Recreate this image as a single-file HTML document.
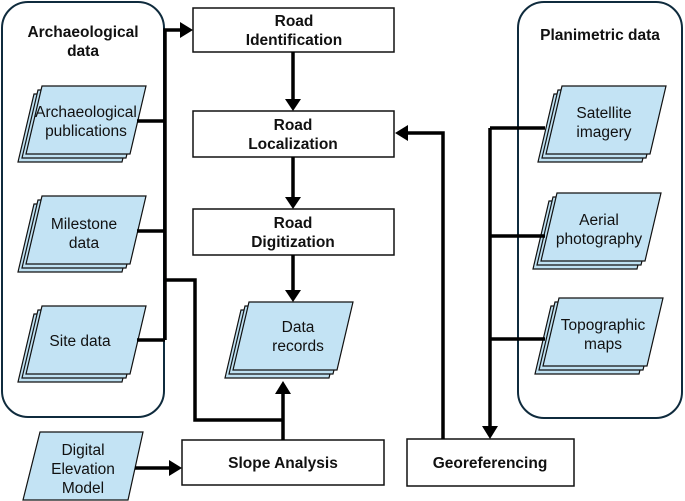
<!DOCTYPE html>
<html><head><style>
html,body{margin:0;padding:0;background:#fff;}
svg{display:block;font-family:"Liberation Sans",Arial,sans-serif;}
.t{font-size:15.5px;fill:#111;text-anchor:middle;}
.b{font-size:15.5px;font-weight:bold;fill:#111;text-anchor:middle;}
</style></head><body>
<svg width="685" height="501" viewBox="0 0 685 501" xmlns="http://www.w3.org/2000/svg">
<defs>
<g id="stk">
<polygon points="16,8 120,8 104,76 0,76" fill="#bfe1f2" stroke="#111" stroke-width="1.2"/>
<polygon points="20,4 124,4 108,72 4,72" fill="#bfe1f2" stroke="#111" stroke-width="1.2"/>
<polygon points="24,0 128,0 112,68 8,68" fill="#c3e3f4" stroke="#111" stroke-width="1.2"/>
</g>
</defs>
<rect x="2" y="2" width="162" height="415" rx="26" fill="none" stroke="#0f2b3d" stroke-width="2"/>
<rect x="518" y="2" width="164" height="416" rx="26" fill="none" stroke="#0f2b3d" stroke-width="2"/>
<text class="b" x="83" y="37">Archaeological</text>
<text class="b" x="83" y="56">data</text>
<text class="b" x="600" y="40">Planimetric data</text>

<use href="#stk" x="18" y="86"/>
<text class="t" x="86" y="117">Archaeological</text>
<text class="t" x="86" y="136">publications</text>
<use href="#stk" x="18" y="196"/>
<text class="t" x="84" y="229">Milestone</text>
<text class="t" x="84" y="248">data</text>
<use href="#stk" x="18" y="306"/>
<text class="t" x="80" y="346">Site data</text>

<use href="#stk" x="538" y="86"/>
<text class="t" x="604" y="118">Satellite</text>
<text class="t" x="604" y="137">imagery</text>
<use href="#stk" x="533" y="193"/>
<text class="t" x="599" y="225">Aerial</text>
<text class="t" x="599" y="244">photography</text>
<use href="#stk" x="535" y="298"/>
<text class="t" x="603" y="330">Topographic</text>
<text class="t" x="603" y="349">maps</text>

<use href="#stk" x="225" y="302"/>
<text class="t" x="298" y="332">Data</text>
<text class="t" x="298" y="351">records</text>

<polygon points="40,432 143,432 128,500 23,500" fill="#c3e3f4" stroke="#111" stroke-width="1.2"/>
<text class="t" x="83" y="455">Digital</text>
<text class="t" x="83" y="474">Elevation</text>
<text class="t" x="83" y="493">Model</text>

<rect x="193" y="8" width="201" height="44" fill="#fff" stroke="#111" stroke-width="1.5"/>
<text class="b" x="294" y="26">Road</text>
<text class="b" x="294" y="45">Identification</text>
<rect x="193" y="111" width="201" height="46" fill="#fff" stroke="#111" stroke-width="1.5"/>
<text class="b" x="293" y="130">Road</text>
<text class="b" x="293" y="149">Localization</text>
<rect x="193" y="209" width="201" height="46" fill="#fff" stroke="#111" stroke-width="1.5"/>
<text class="b" x="293" y="228">Road</text>
<text class="b" x="293" y="247">Digitization</text>
<rect x="182" y="440" width="202" height="45" fill="#fff" stroke="#111" stroke-width="1.5"/>
<text class="b" x="283" y="468">Slope Analysis</text>
<rect x="407" y="439" width="167" height="47" fill="#fff" stroke="#111" stroke-width="1.5"/>
<text class="b" x="490" y="468">Georeferencing</text>

<g stroke="#000" stroke-width="3.5" fill="none">
<line x1="137" y1="121" x2="165" y2="121"/>
<line x1="137" y1="231" x2="165" y2="231"/>
<line x1="137" y1="340" x2="165" y2="340"/>
<polyline points="165,340 165,30 186,30"/>
<polyline points="165,280 195,280 195,420 283,420"/>
<line x1="283" y1="440" x2="283" y2="392"/>
<line x1="293" y1="52" x2="293" y2="101"/>
<line x1="293" y1="157" x2="293" y2="199"/>
<line x1="293" y1="255" x2="293" y2="292"/>
<line x1="135" y1="468" x2="172" y2="468"/>
<polyline points="443,439 443,133 406,133"/>
<line x1="545" y1="128" x2="490" y2="128"/>
<line x1="545" y1="236" x2="490" y2="236"/>
<line x1="545" y1="339" x2="490" y2="339"/>
<line x1="490" y1="128" x2="490" y2="428"/>
</g>
<g fill="#000">
<polygon points="180,22 193,30 180,38"/>
<polygon points="285,99 301,99 293,111"/>
<polygon points="285,197 301,197 293,209"/>
<polygon points="285,290 301,290 293,302"/>
<polygon points="275,394 291,394 283,381"/>
<polygon points="169,460 182,468 169,476"/>
<polygon points="408,125 408,141 395,133"/>
<polygon points="482,426 498,426 490,439"/>
</g>
</svg>
</body></html>
